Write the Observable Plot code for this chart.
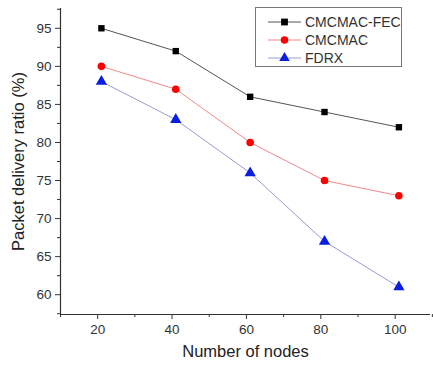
<!DOCTYPE html>
<html><head><meta charset="utf-8">
<script src="https://cdn.jsdelivr.net/npm/d3@7"></script>
<script src="https://cdn.jsdelivr.net/npm/@observablehq/plot@0.6"></script>
<style>
body{margin:0;background:#fff;font-family:Arial,"Liberation Sans",sans-serif;}
#wrap{position:relative;width:433px;height:366px;}
#legend{position:absolute;left:255px;top:7px;width:147px;height:60px;border:1px solid #777;background:#fff;box-sizing:border-box;font-size:14px;color:#333;}
#legend .row{position:absolute;left:0;right:0;height:16px;display:flex;align-items:center;white-space:nowrap;}
#legend svg{margin-left:12px;margin-right:4px;flex:none;}
</style></head>
<body><div id="wrap"><div id="chart"></div><div id="legend"></div></div>
<script>
const nodes = [21, 41, 61, 81, 101];
const fecValues = [95, 92, 86, 84, 82];
const cmcmacValues = [90, 87, 80, 75, 73];
const fdrxValues = [88, 83, 76, 67, 61];
const seriesNames = ["CMCMAC-FEC", "CMCMAC", "FDRX"];
const xTicks = [20, 40, 60, 80, 100];
const xMinor = [10, 30, 50, 70, 90, 110];
const yTicks = [60, 65, 70, 75, 80, 85, 90, 95];
const yMinor = [57.5, 62.5, 67.5, 72.5, 77.5, 82.5, 87.5, 92.5, 97.5];

const styles = {
  "CMCMAC-FEC": {line: "#555", fill: "#000", symbol: "square", r: 3.6},
  "CMCMAC": {line: "#f08a8a", fill: "#ff0000", symbol: "circle", r: 3.8},
  "FDRX": {line: "#9a9ad8", fill: "#0a1ee0", symbol: "triangle", r: 4.2}
};
const allValues = [fecValues, cmcmacValues, fdrxValues];
const data = [];
seriesNames.forEach((s, i) => nodes.forEach((n, j) => data.push({series: s, x: n, y: allValues[i][j]})));

const xDom = [10, 109.5], yDom = [57.4, 97.6];
const marks = [
  Plot.axisX({ticks: xTicks, tickSize: 5, tickPadding: 5, fontSize: 13.5, color: "#333", label: null}),
  Plot.axisX({ticks: xMinor, tickSize: 3, text: null, label: null, color: "#333"}),
  Plot.axisY({ticks: yTicks, tickSize: 5, tickPadding: 4, fontSize: 13.5, color: "#333", label: null}),
  Plot.axisY({ticks: yMinor, tickSize: 3, text: null, label: null, color: "#333"}),
  Plot.ruleX([xDom[0]], {stroke: "#333", strokeWidth: 1.2}),
  Plot.ruleY([yDom[0]], {stroke: "#333", strokeWidth: 1.2}),
];
for (const s of seriesNames) {
  const st = styles[s];
  const d = data.filter(e => e.series === s);
  marks.push(Plot.line(d, {x: "x", y: "y", stroke: st.line, strokeWidth: 1}));
  marks.push(Plot.dot(d, {x: "x", y: "y", symbol: () => st.symbol, fill: st.fill, stroke: "none", r: st.r}));
}
const chart = Plot.plot({
  width: 433, height: 366,
  marginLeft: 60, marginRight: 3, marginTop: 8, marginBottom: 52,
  x: {domain: xDom}, y: {domain: yDom},
  style: {fontFamily: "Arial, 'Liberation Sans', sans-serif", background: "#fff"},
  marks: [
    ...marks,
    Plot.text(["Number of nodes"], {frameAnchor: "bottom", dy: 42, fontSize: 16.5, fill: "#222"}),
    Plot.text(["Packet delivery ratio (%)"], {frameAnchor: "left", textAnchor: "middle", dx: -42, rotate: -90, fontSize: 16.5, fill: "#222"})
  ]
});
document.getElementById("chart").appendChild(chart);

const legend = document.getElementById("legend");
seriesNames.forEach((s, i) => {
  const st = styles[s];
  const row = document.createElement("div");
  row.className = "row";
  row.style.top = (6 + i * 18) + "px";
  const sym = d3.symbol(st.symbol === "square" ? d3.symbolSquare : st.symbol === "circle" ? d3.symbolCircle : d3.symbolTriangle, st.symbol === "square" ? 46 : st.symbol === "circle" ? 44 : 48)();
  row.innerHTML = `<svg width="33" height="14"><line x1="0" x2="33" y1="7" y2="7" stroke="${st.line}" stroke-width="1"/><path d="${sym}" transform="translate(16.5,7)" fill="${st.fill}"/></svg><span>${s}</span>`;
  legend.appendChild(row);
});
</script></body></html>
